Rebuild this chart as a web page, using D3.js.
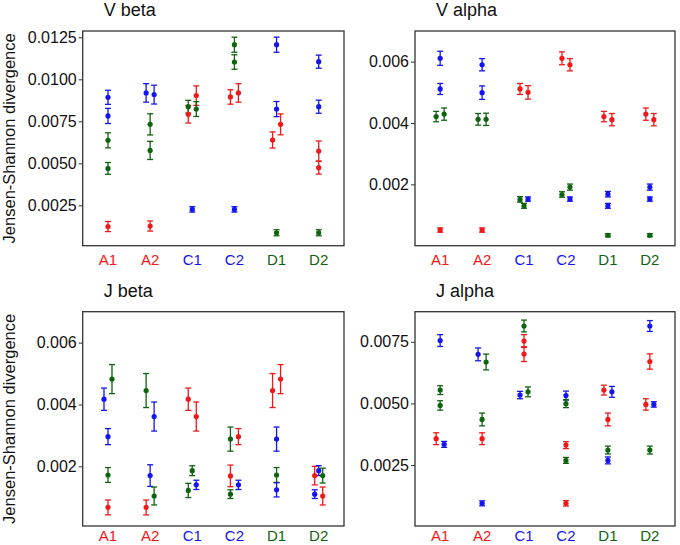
<!DOCTYPE html>
<html><head><meta charset="utf-8">
<script src="https://cdn.jsdelivr.net/npm/d3@7"></script>
<style>body{margin:0;background:#fff}svg{display:block}text{font-family:"Liberation Sans",Arial,sans-serif}</style>
</head><body><svg id="c" width="680" height="545"></svg>
<script>
// ---------------- data ----------------
const categories = ["A1","A2","C1","C2","D1","D2"];
const groupOfCategory = ["A","A","C","C","D","D"];
const groupColors = {A:"#f01818", C:"#1414f0", D:"#0e640e"};
const slots = ["L","M","R"]; // sub-group within a category (dodge order)

// rows: [category, comparison group, value, error, slot]
const vBeta = [
 ["A1","C",0.00893,0.00042,"M"],["A1","C",0.00782,0.00045,"M"],["A1","D",0.00637,0.00045,"M"],["A1","D",0.00470,0.00035,"M"],["A1","A",0.00124,0.00030,"M"],
 ["A2","C",0.00919,0.00055,"L"],["A2","C",0.00909,0.00056,"R"],["A2","D",0.00732,0.00063,"M"],["A2","D",0.00577,0.00054,"M"],["A2","A",0.00127,0.00030,"M"],
 ["C1","C",0.00226,0.00016,"M"],["C1","A",0.00792,0.00052,"L"],["C1","A",0.00903,0.00058,"R"],["C1","D",0.00837,0.00038,"L"],["C1","D",0.00823,0.00044,"R"],
 ["C2","D",0.01206,0.00045,"M"],["C2","D",0.01103,0.00043,"M"],["C2","A",0.00895,0.00043,"L"],["C2","A",0.00919,0.00055,"R"],["C2","C",0.00226,0.00016,"M"],
 ["D1","C",0.01206,0.00045,"M"],["D1","C",0.00823,0.00045,"M"],["D1","A",0.00639,0.00048,"L"],["D1","A",0.00732,0.00062,"R"],["D1","D",0.00087,0.00018,"M"],
 ["D2","C",0.01105,0.00039,"M"],["D2","C",0.00837,0.00039,"M"],["D2","A",0.00573,0.00060,"M"],["D2","A",0.00474,0.00038,"M"],["D2","D",0.00087,0.00018,"M"]
];
const vAlpha = [
 ["A1","C",0.00611,0.00023,"M"],["A1","C",0.00511,0.00018,"M"],["A1","D",0.00421,0.00017,"L"],["A1","D",0.00429,0.00020,"R"],["A1","A",0.00051,0.00007,"M"],
 ["A2","C",0.00590,0.00020,"M"],["A2","C",0.00499,0.00022,"M"],["A2","D",0.00412,0.00019,"L"],["A2","D",0.00412,0.00020,"R"],["A2","A",0.00051,0.00007,"M"],
 ["C1","A",0.00511,0.00018,"L"],["C1","A",0.00500,0.00022,"R"],["C1","D",0.00151,0.00009,"L"],["C1","D",0.00130,0.00008,"M"],["C1","C",0.00152,0.00007,"R"],
 ["C2","A",0.00611,0.00021,"L"],["C2","A",0.00590,0.00020,"R"],["C2","D",0.00167,0.00009,"L"],["C2","D",0.00191,0.00010,"R"],["C2","C",0.00152,0.00007,"R"],
 ["D1","A",0.00421,0.00017,"L"],["D1","A",0.00411,0.00020,"R"],["D1","C",0.00168,0.00009,"M"],["D1","C",0.00130,0.00008,"M"],["D1","D",0.00034,0.00005,"M"],
 ["D2","A",0.00429,0.00020,"L"],["D2","A",0.00411,0.00020,"R"],["D2","C",0.00191,0.00010,"M"],["D2","C",0.00152,0.00007,"M"],["D2","D",0.00034,0.00005,"M"]
];
const jBeta = [
 ["A1","C",0.00417,0.00036,"L"],["A1","D",0.00482,0.00047,"R"],["A1","C",0.00296,0.00026,"M"],["A1","D",0.00172,0.00024,"M"],["A1","A",0.00067,0.00024,"M"],
 ["A2","D",0.00445,0.00055,"L"],["A2","C",0.00361,0.00047,"R"],["A2","C",0.00170,0.00035,"M"],["A2","D",0.00104,0.00029,"R"],["A2","A",0.00067,0.00024,"L"],
 ["C1","A",0.00417,0.00036,"L"],["C1","A",0.00361,0.00047,"R"],["C1","D",0.00186,0.00016,"M"],["C1","D",0.00122,0.00023,"L"],["C1","C",0.00140,0.00015,"R"],
 ["C2","D",0.00288,0.00039,"L"],["C2","A",0.00296,0.00026,"R"],["C2","A",0.00169,0.00035,"L"],["C2","C",0.00140,0.00015,"R"],["C2","D",0.00110,0.00014,"L"],
 ["D1","A",0.00445,0.00055,"L"],["D1","A",0.00482,0.00047,"R"],["D1","C",0.00288,0.00039,"M"],["D1","D",0.00172,0.00024,"M"],["D1","C",0.00124,0.00023,"M"],
 ["D2","A",0.00170,0.00030,"L"],["D2","C",0.00186,0.00016,"M"],["D2","D",0.00170,0.00024,"R"],["D2","C",0.00110,0.00014,"L"],["D2","A",0.00104,0.00029,"R"]
];
const jAlpha = [
 ["A1","C",0.00755,0.00024,"M"],["A1","D",0.00554,0.00018,"M"],["A1","D",0.00492,0.00019,"M"],["A1","A",0.00357,0.00024,"L"],["A1","C",0.00334,0.00012,"R"],
 ["A2","C",0.00699,0.00026,"L"],["A2","D",0.00668,0.00032,"R"],["A2","D",0.00435,0.00026,"M"],["A2","A",0.00357,0.00024,"M"],["A2","C",0.00095,0.00010,"M"],
 ["C1","D",0.00814,0.00024,"M"],["C1","A",0.00753,0.00026,"M"],["C1","A",0.00700,0.00030,"M"],["C1","C",0.00534,0.00015,"L"],["C1","D",0.00547,0.00020,"R"],
 ["C2","C",0.00532,0.00018,"M"],["C2","D",0.00499,0.00016,"M"],["C2","A",0.00331,0.00014,"M"],["C2","D",0.00269,0.00012,"M"],["C2","A",0.00095,0.00011,"M"],
 ["D1","A",0.00554,0.00020,"L"],["D1","C",0.00547,0.00022,"R"],["D1","A",0.00435,0.00026,"M"],["D1","D",0.00311,0.00016,"M"],["D1","C",0.00269,0.00014,"M"],
 ["D2","C",0.00814,0.00022,"M"],["D2","A",0.00670,0.00031,"M"],["D2","A",0.00496,0.00023,"L"],["D2","C",0.00496,0.00011,"R"],["D2","D",0.00311,0.00016,"M"]
];
const vBetaTicks = [0.0025,0.0050,0.0075,0.0100,0.0125];
const vAlphaTicks = [0.002,0.004,0.006];
const jBetaTicks = [0.002,0.004,0.006];
const jAlphaTicks = [0.0025,0.0050,0.0075];
const titles = ["V beta","V alpha","J beta","J alpha"];
const yLabel = "Jensen-Shannon divergence";

// ---------------- layout ----------------
const svg = d3.select("#c");
const panels = [
 {title:titles[0], rows:vBeta,  ticks:vBetaTicks,  fmt:".4f", dom:[0.0001,0.012875], x0:82.7, x1:344, y0:31,    y1:245.7, ylab:true,  lab:265},
 {title:titles[1], rows:vAlpha, ticks:vAlphaTicks, fmt:".3f", dom:[0.0,0.0070],     x0:415,  x1:675, y0:31,    y1:245.7, ylab:false, lab:265},
 {title:titles[2], rows:jBeta,  ticks:jBetaTicks,  fmt:".3f", dom:[0.00007,0.0070], x0:82.7, x1:344, y0:311.7, y1:526,   ylab:true,  lab:541},
 {title:titles[3], rows:jAlpha, ticks:jAlphaTicks, fmt:".4f", dom:[0.00003,0.00872],x0:415,  x1:675, y0:311.7, y1:526,   ylab:false, lab:541}
];

panels.forEach(p => {
  const g = svg.append("g");
  const x = d3.scaleLinear().domain([0.4, 6.6]).range([p.x0, p.x1]);
  const dodge = d3.scalePoint().domain(slots).range([-4, 4]);
  const y = d3.scaleLinear().domain(p.dom).range([p.y1, p.y0]);
  const cx = d => x(categories.indexOf(d[0]) + 1) + dodge(d[4]);

  // y axis
  const ax = g.append("g").attr("transform", `translate(${p.x0},0)`)
    .call(d3.axisLeft(y).tickValues(p.ticks).tickFormat(d3.format(p.fmt)).tickSize(4).tickPadding(2));
  ax.select(".domain").remove();
  ax.selectAll(".tick line").attr("stroke","#333").attr("stroke-width",1);
  ax.selectAll(".tick text").attr("font-size","16px").attr("fill","#111").attr("font-family","Liberation Sans, Arial, sans-serif");

  // x labels
  g.selectAll(".xl").data(categories).enter().append("text")
    .attr("x", (d,i) => x(i+1)).attr("y", p.lab)
    .attr("text-anchor","middle").attr("font-size","15px")
    .attr("fill", (d,i) => groupColors[groupOfCategory[i]]).text(d => d);

  // error bars
  const eb = g.selectAll(".eb").data(p.rows).enter().append("g")
    .attr("stroke", d => groupColors[d[1]]).attr("stroke-width", 1.3).attr("fill","none");
  eb.append("line").attr("x1", cx).attr("x2", cx).attr("y1", d => y(d[2]-d[3])).attr("y2", d => y(d[2]+d[3]));
  eb.append("line").attr("x1", d => cx(d)-3).attr("x2", d => cx(d)+3).attr("y1", d => y(d[2]-d[3])).attr("y2", d => y(d[2]-d[3]));
  eb.append("line").attr("x1", d => cx(d)-3).attr("x2", d => cx(d)+3).attr("y1", d => y(d[2]+d[3])).attr("y2", d => y(d[2]+d[3]));

  // points
  g.selectAll(".pt").data(p.rows).enter().append("circle")
    .attr("cx", cx).attr("cy", d => y(d[2])).attr("r", 2.6)
    .attr("fill", d => groupColors[d[1]]);

  // frame
  g.append("rect").attr("x", p.x0).attr("y", p.y0).attr("width", p.x1-p.x0).attr("height", p.y1-p.y0)
    .attr("fill","none").attr("stroke","#333").attr("stroke-width",1.3);

  // title
  g.append("text").attr("x", p.x0 + 21).attr("y", p.y0 - 15).attr("font-size","18px").attr("fill","#111").text(p.title);

  // y label
  if (p.ylab) {
    g.append("text").attr("transform", `translate(15,${(p.y0+p.y1)/2}) rotate(-90)`)
      .attr("text-anchor","middle").attr("font-size","16.5px").attr("fill","#111").text(yLabel);
  }
});
</script></body></html>
